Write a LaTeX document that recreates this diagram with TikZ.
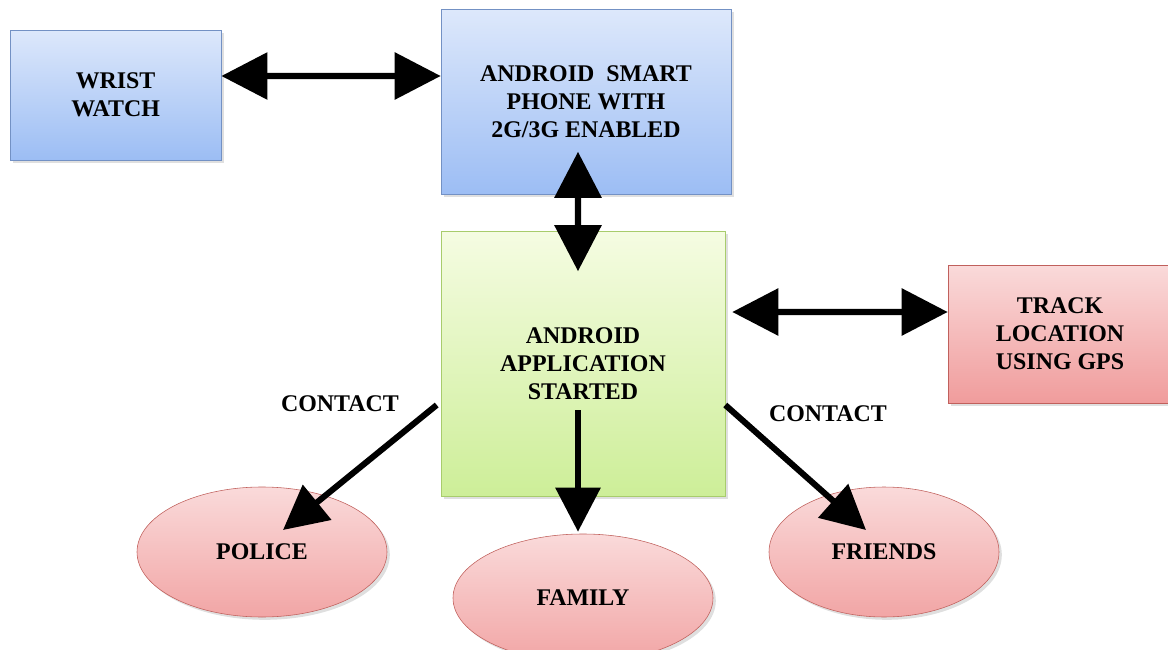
\documentclass[tikz,border=0pt]{standalone}
\usepackage{fontspec}
\setmainfont{Liberation Serif}
\usetikzlibrary{arrows.meta,shapes.geometric,shadows}

\definecolor{blueTop}{HTML}{DDE8FB}
\definecolor{blueBot}{HTML}{9CBDF4}
\definecolor{blueLine}{HTML}{7391C4}
\definecolor{greenTop}{HTML}{F5FCE2}
\definecolor{greenBot}{HTML}{CDEE98}
\definecolor{greenLine}{HTML}{A8CC6C}
\definecolor{redTop}{HTML}{FADADA}
\definecolor{redBot}{HTML}{F09C9C}
\definecolor{redLine}{HTML}{C0605C}

\begin{document}
\begin{tikzpicture}[
        font=\fontsize{17}{20}\selectfont\bfseries,
        bluebox/.style={rectangle, draw=blueLine, top color=blueTop, bottom color=blueBot, align=center},
        greenbox/.style={rectangle, draw=greenLine, top color=greenTop, bottom color=greenBot, align=center},
        redbox/.style={rectangle, draw=redLine, top color=redTop, bottom color=redBot, align=center},
        redoval/.style={ellipse, draw=redLine, top color=redTop, bottom color=redBot!85!redTop, inner sep=0},
        fatarrow/.style={line width=4.3pt, {Triangle[length=1.15cm,width=1.15cm]}-{Triangle[length=1.15cm,width=1.15cm]}},
        fatpush/.style={line width=4.3pt, -{Triangle[length=1.1cm,width=1.1cm]}}
    ]
        \useasboundingbox (0,0) rectangle (29.2,-16.25);
        \begin{scope}[every node/.style={drop shadow={shadow xshift=2pt, shadow yshift=-2pt, opacity=0.25}}]
            \node [bluebox, minimum width=5.275cm, minimum height=3.25cm] (watch) at (2.89,-2.375) {WRIST\\WATCH};
            \node [bluebox, minimum width=7.25cm, minimum height=4.625cm] (phone) at (14.65,-2.55) {ANDROID\ \ SMART\\PHONE WITH\\2G/3G ENABLED};
            \node [greenbox, minimum width=7.1cm, minimum height=6.625cm] (app) at (14.575,-9.1) {ANDROID\\APPLICATION\\STARTED};
            \node [redbox, minimum width=5.6cm, minimum height=3.45cm] (track) at (26.5,-8.35) {TRACK\\LOCATION\\USING GPS};
            \node [redoval, minimum width=6.25cm, minimum height=3.25cm] (police) at (6.55,-13.8) {POLICE};
            \node [redoval, minimum width=6.5cm, minimum height=3.2cm] (family) at (14.575,-14.95) {FAMILY};
            \node [redoval, minimum width=5.75cm, minimum height=3.25cm] (friends) at (22.1,-13.8) {FRIENDS};
        \end{scope}
        \node (contactL) at (8.5,-10.1) {CONTACT};
        \node (contactR) at (20.7,-10.35) {CONTACT};
        \begin{scope}
            \draw [fatarrow] ([yshift=0.475cm]watch.east) -- ([yshift=0.65cm]phone.west);
            \draw [fatarrow] ([xshift=-0.2cm,yshift=1.075cm]phone.south) -- ([xshift=-0.125cm,yshift=-1.0cm]app.north);
            \draw [fatarrow] ([xshift=0.175cm,yshift=1.3cm]app.east) -- ([yshift=0.55cm]track.west);
            \draw [fatpush] ([xshift=-0.1cm,yshift=-1.025cm]app.west) -- ([shift={(0.525,0.55)}]police.center);
            \draw [fatpush] ([xshift=-0.125cm,yshift=-1.15cm]app.center) -- ([xshift=-0.125cm,yshift=0.05cm]family.north);
            \draw [fatpush] ([yshift=-1.025cm]app.east) -- ([shift={(-0.45,0.55)}]friends.center);
        \end{scope}
\end{tikzpicture}
\end{document}
